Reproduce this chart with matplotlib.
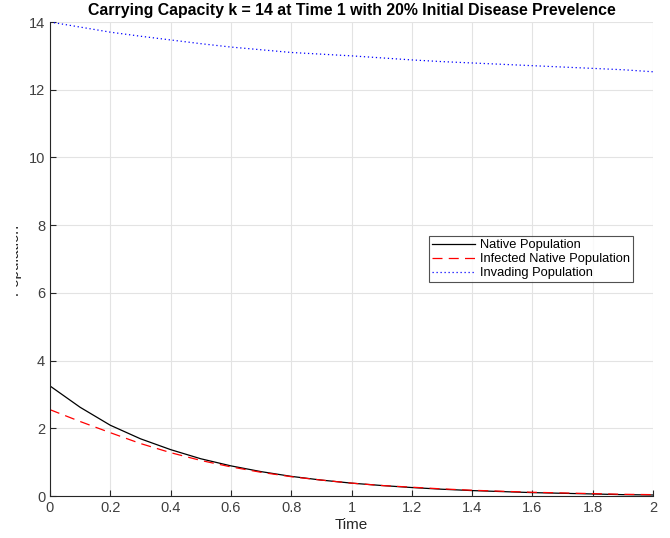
import matplotlib
matplotlib.use("Agg")
import matplotlib.pyplot as plt
from matplotlib.patches import Rectangle

time = [0.0, 0.1, 0.2, 0.3, 0.4, 0.5, 0.6, 0.7, 0.8, 0.9, 1.0,
        1.1, 1.2, 1.3, 1.4, 1.5, 1.6, 1.7, 1.8, 1.9, 2.0]
native = [3.25, 2.62, 2.09, 1.69, 1.37, 1.10, 0.89, 0.72, 0.58, 0.47, 0.38,
          0.31, 0.25, 0.20, 0.16, 0.13, 0.10, 0.08, 0.06, 0.04, 0.03]
infected = [2.55, 2.20, 1.87, 1.55, 1.28, 1.05, 0.86, 0.70, 0.57, 0.47, 0.38,
            0.31, 0.26, 0.21, 0.17, 0.14, 0.11, 0.09, 0.07, 0.05, 0.04]
invading = [14.0, 13.85, 13.70, 13.58, 13.47, 13.36, 13.26, 13.18, 13.10, 13.05, 13.00,
            12.94, 12.88, 12.83, 12.79, 12.75, 12.71, 12.67, 12.63, 12.59, 12.53]

xticks = [0, 0.2, 0.4, 0.6, 0.8, 1, 1.2, 1.4, 1.6, 1.8, 2]
xticklabels = ["0", "0.2", "0.4", "0.6", "0.8", "1", "1.2", "1.4", "1.6", "1.8", "2"]
yticks = [0, 2, 4, 6, 8, 10, 12, 14]

plt.rcParams["font.family"] = ["Liberation Sans", "DejaVu Sans"]

W, H = 670, 538
fig = plt.figure(figsize=(W / 100, H / 100), dpi=100)
ax = fig.add_axes([50 / W, 1 - 496 / H, 603 / W, 474 / H])

ax.plot(time, native, color="black", lw=0.9, label="Native Population")
ax.plot(time, infected, color="red", lw=0.9, dashes=(8, 5), label="Infected Native Population")
ax.plot(time, invading, color="blue", lw=0.9, linestyle=(0, (1, 2.2)), label="Invading Population")

ax.set_xlim(0, 2)
ax.set_ylim(0, 14)
ax.set_xticks(xticks)
ax.set_xticklabels(xticklabels)
ax.set_yticks(yticks)
ax.grid(True, color="#e3e3e3", lw=0.8)
ax.set_axisbelow(True)
for s in ("top", "right"):
    ax.spines[s].set_visible(False)
for s in ("left", "bottom"):
    ax.spines[s].set_color("#262626")
    ax.spines[s].set_linewidth(0.8)
ax.tick_params(direction="in", length=4, width=0.8, colors="#262626",
               labelsize=10.5, labelcolor="#404040")

ax.set_title("Carrying Capacity k = 14 at Time 1 with 20% Initial Disease Prevelence",
             fontsize=11.4, fontweight="bold", pad=5)
ax.set_xlabel("Time", fontsize=11, labelpad=2, color="#262626")

# y-axis label sits at the figure edge and is cut by the canvas border
ylab = fig.text(14 / W, 1 - 259 / H, "Population", rotation=90, fontsize=11,
                ha="center", va="center", color="#262626")
ylab.set_clip_path(Rectangle((15.5 / W, 0), 1, 1, transform=fig.transFigure))

leg = ax.legend(loc="upper right", bbox_to_anchor=((633 - 50) / 603, (496 - 236) / 474),
                fontsize=9.3, frameon=True, fancybox=False, borderpad=0.25,
                handlelength=3.3, handletextpad=0.4, labelspacing=0.15,
                borderaxespad=0)
leg.get_frame().set_edgecolor("#262626")
leg.get_frame().set_linewidth(0.8)

fig.savefig("out.png", dpi=100)
